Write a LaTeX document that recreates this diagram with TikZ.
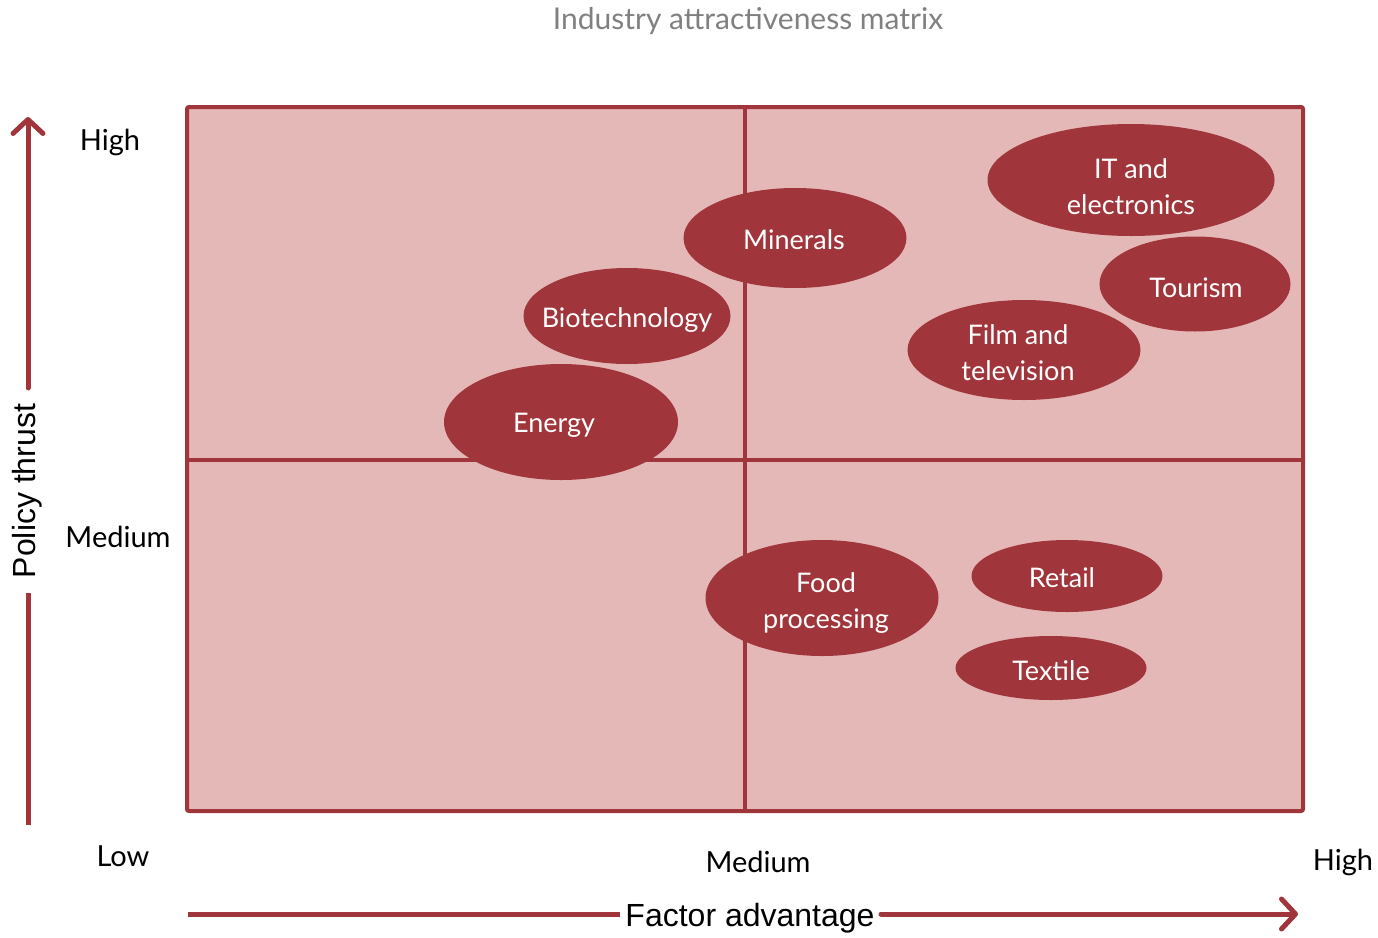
\documentclass[tikz,border=0pt]{standalone}
\usepackage{fontspec}
\setmainfont{Lato}
\newfontfamily\arialfont{Liberation Sans}
\usetikzlibrary{shapes.geometric,arrows.meta}
\definecolor{dred}{HTML}{A0363C}
\definecolor{pinkf}{HTML}{E5B8B8}
\definecolor{titlegray}{HTML}{808080}
\tikzset{
  bubble/.style={ellipse, fill=dred, draw=none, inner sep=0pt},
  btext/.style={text=white, align=center, inner sep=0pt, font=\fontsize{27}{36}\selectfont},
  level/.style={text=black, inner sep=0pt, font=\fontsize{29}{34}\selectfont},
  axislab/.style={text=black, inner sep=0pt, font=\arialfont\fontsize{32}{36}\selectfont},
  gridline/.style={draw=dred, line width=4pt},
  axisarrow/.style={draw=dred, line width=5pt},
  axistip/.style={draw=dred, line width=5pt, line cap=round, -{Straight Barb[length=14pt,width=30pt,line cap=round,line join=round]}}
}
\begin{document}
\begin{tikzpicture}[x=1pt,y=-1pt]
\useasboundingbox (0,0) rectangle (1378,937);
% title
\node[inner sep=0pt, text=titlegray, font=\fontsize{30}{34}\selectfont] (title) at (748,21) {Industry attractiveness matrix};
% matrix
\coordinate (tl) at (187,107);
\coordinate (br) at (1303,811);
\coordinate (mt) at (745,107);
\coordinate (mb) at (745,811);
\coordinate (ml) at (187,460);
\coordinate (mr) at (1303,460);
\fill[pinkf] (tl) rectangle (br);
\draw[gridline] (mt) -- (mb);
\draw[gridline] (ml) -- (mr);
\draw[gridline, rounded corners=2pt] (tl) rectangle (br);
% vertical axis
\node[axislab, rotate=90] (ylab) at (27,491) {Policy thrust};
\coordinate (yb1) at (28,825);
\coordinate (yb2) at (28,593);
\coordinate (yt1) at (28,388);
\coordinate (yt2) at (28,117);
\draw[axisarrow] (yb1) -- (yb2);
\draw[axistip] (yt1) -- (yt2);
% horizontal axis
\node[axislab] (xlab) at (750,918) {Factor advantage};
\coordinate (xl1) at (188,914);
\coordinate (xl2) at (620,914);
\coordinate (xr1) at (881,914);
\coordinate (xr2) at (1298,914);
\draw[axisarrow] (xl1) -- (xl2);
\draw[axistip] (xr1) -- (xr2);
% level labels
\node[level] (yhigh) at (110,142) {High};
\node[level] (ymed) at (118,537) {Medium};
\node[level] (low) at (123,856) {Low};
\node[level] (xmed) at (758,862) {Medium};
\node[level] (xhigh) at (1343,862) {High};
% bubbles
\node[bubble, minimum width=287pt, minimum height=112pt] (itb) at (1131,180) {};
\node[btext] (itt) at (1131,187) {IT and\\electronics};
\node[bubble, minimum width=191pt, minimum height=95pt] (tourb) at (1195,284) {};
\node[btext] (tourt) at (1196,288) {Tourism};
\node[bubble, minimum width=223pt, minimum height=100pt] (minb) at (795,238) {};
\node[btext] (mint) at (794,240) {Minerals};
\node[bubble, minimum width=207pt, minimum height=96pt] (biob) at (627,316) {};
\node[btext] (biot) at (627,320) {Biotechnology};
\node[bubble, minimum width=233pt, minimum height=100pt] (filmb) at (1024,350) {};
\node[btext] (filmt) at (1018,353) {Film and\\television};
\node[bubble, minimum width=234pt, minimum height=116pt] (enb) at (561,422) {};
\node[btext] (ent) at (554,425) {Energy};
\node[bubble, minimum width=233pt, minimum height=116pt] (foodb) at (822,598) {};
\node[btext] (foodt) at (826,603) {Food\\processing};
\node[bubble, minimum width=191pt, minimum height=72pt] (retb) at (1067,576) {};
\node[btext] (rett) at (1062,578) {Retail};
\node[bubble, minimum width=191pt, minimum height=64pt] (texb) at (1051,668) {};
\node[btext] (text) at (1051,671) {Textile};
\end{tikzpicture}
\end{document}
